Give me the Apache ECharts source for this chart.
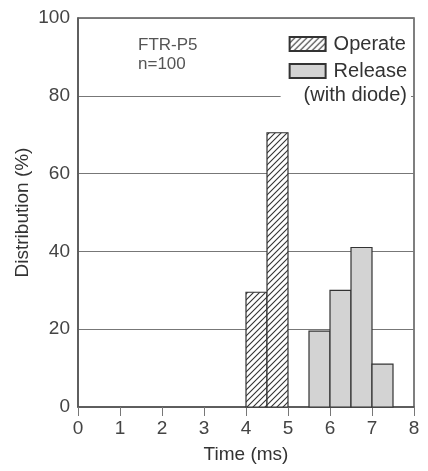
<!DOCTYPE html>
<html>
<head>
<meta charset="utf-8">
<script src="https://cdn.jsdelivr.net/npm/echarts@6/dist/echarts.min.js"></script>
<style>
  html, body { margin: 0; padding: 0; background: #fff; }
  #chart { width: 428px; height: 471px; }
</style>
</head>
<body>
<div id="chart"></div>
<script>
// histogram bins (ms) and distribution (%)
var operateStart = [4, 4.5]
var operateValues = [29.5, 70.5]
var releaseStart = [5.5, 6, 6.5, 7]
var releaseValues = [19.5, 30, 41, 11]
var binWidth = 0.5
var xTicks = [0, 1, 2, 3, 4, 5, 6, 7, 8]
var yTicks = [0, 20, 40, 60, 80, 100]

var FONT = 'Liberation Sans, Arial, sans-serif'

function bins(starts, values) {
  return starts.map(function (s, i) { return [s, s + binWidth, values[i]] })
}

// diagonal hatch for the Operate bars
function makeHatch() {
  var c = document.createElement('canvas')
  c.width = 6
  c.height = 6
  var ctx = c.getContext('2d')
  ctx.fillStyle = '#fff'
  ctx.fillRect(0, 0, 6, 6)
  ctx.strokeStyle = '#333'
  ctx.lineWidth = 1.1
  ctx.beginPath()
  ctx.moveTo(0, 6); ctx.lineTo(6, 0)
  ctx.moveTo(-1, 1); ctx.lineTo(1, -1)
  ctx.moveTo(5, 7); ctx.lineTo(7, 5)
  ctx.stroke()
  return { image: c, repeat: 'repeat' }
}

function renderBin(params, api) {
  var p0 = api.coord([api.value(0), api.value(2)])
  var p1 = api.coord([api.value(1), 0])
  return {
    type: 'rect',
    shape: { x: p0[0], y: p0[1], width: p1[0] - p0[0], height: p1[1] - p0[1] },
    style: api.style()
  }
}

var chart = echarts.init(document.getElementById('chart'), null, { renderer: 'canvas' })

chart.setOption({
  animation: false,
  backgroundColor: '#fff',
  grid: {
    left: 78, top: 18, right: 14, bottom: 64,
    show: true, borderColor: '#555', borderWidth: 1.5, backgroundColor: 'transparent'
  },
  xAxis: {
    type: 'value', min: xTicks[0], max: xTicks[xTicks.length - 1], interval: 1,
    name: 'Time (ms)', nameLocation: 'middle', nameGap: 38,
    nameTextStyle: { fontFamily: FONT, fontSize: 19, color: '#333' },
    axisLine: { lineStyle: { color: '#555', width: 1.5 } },
    axisTick: { show: true, length: 9, lineStyle: { color: '#777' } },
    axisLabel: { fontFamily: FONT, fontSize: 19, color: '#444', margin: 12 },
    splitLine: { show: false }
  },
  yAxis: {
    type: 'value', min: yTicks[0], max: yTicks[yTicks.length - 1], interval: 20,
    name: 'Distribution (%)', nameLocation: 'middle', nameGap: 46, nameMoveOverlap: false,
    nameTextStyle: { fontFamily: FONT, fontSize: 19, color: '#333' },
    axisLine: { show: true, lineStyle: { color: '#555', width: 1.5 } },
    axisTick: { show: false },
    axisLabel: { fontFamily: FONT, fontSize: 19, color: '#444', margin: 8 },
    splitLine: { show: true, lineStyle: { color: '#777', width: 1 } }
  },
  legend: {
    orient: 'vertical', align: 'left', right: 17, top: 30,
    itemWidth: 36, itemHeight: 14, itemGap: 7,
    backgroundColor: '#fff', padding: [4, 4, 32, 8],
    textStyle: { fontFamily: FONT, fontSize: 20, color: '#333', padding: [0, 0, 0, 3] },
    data: [
      { name: 'Operate', icon: 'rect' },
      { name: 'Release', icon: 'rect' }
    ]
  },
  graphic: [
    {
      type: 'text', right: 21, top: 85, z: 100,
      style: { text: '(with diode)', font: '20px ' + FONT, fill: '#333' }
    },
    {
      type: 'text', left: 138, top: 36, z: 100,
      style: { text: 'FTR-P5\nn=100', font: '17px ' + FONT, fill: '#555', lineHeight: 19 }
    }
  ],
  series: [
    {
      name: 'Operate', type: 'custom', renderItem: renderBin,
      encode: { x: [0, 1], y: 2 },
      itemStyle: { color: makeHatch(), borderColor: '#333', borderWidth: 1.2 },
      data: bins(operateStart, operateValues)
    },
    {
      name: 'Release', type: 'custom', renderItem: renderBin,
      encode: { x: [0, 1], y: 2 },
      itemStyle: { color: '#d3d3d3', borderColor: '#333', borderWidth: 1.2 },
      data: bins(releaseStart, releaseValues)
    }
  ]
})
</script>
</body>
</html>
